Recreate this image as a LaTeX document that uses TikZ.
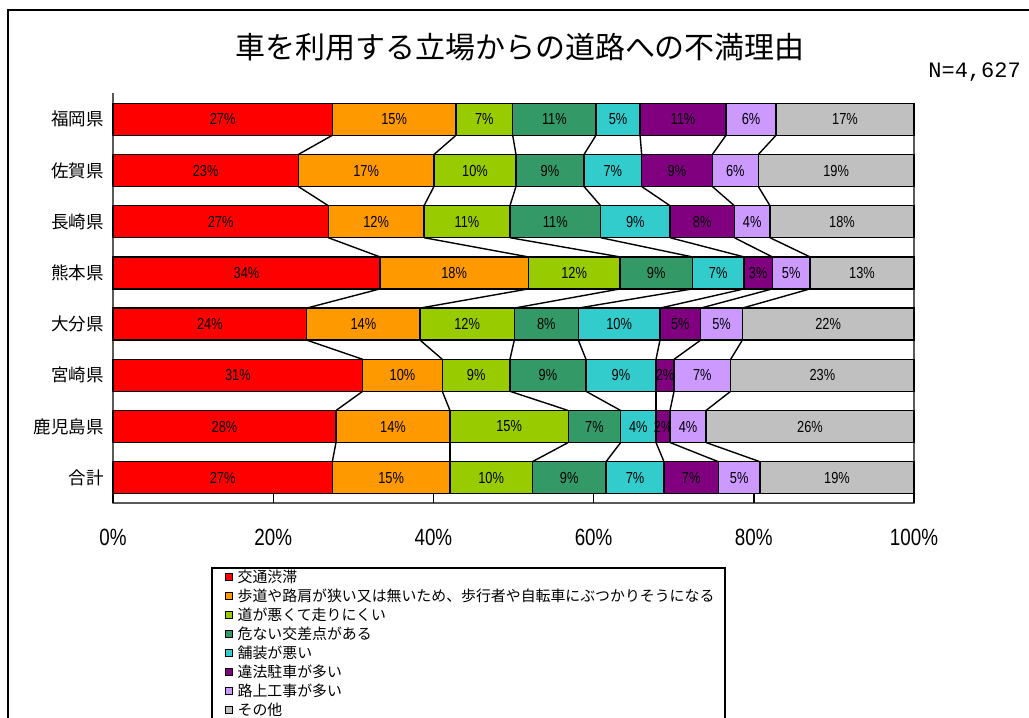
\documentclass[tikz,border=0pt]{standalone}
\usepackage{fontspec}
\setmainfont{Noto Sans CJK JP}
\newfontfamily\numfont[FakeStretch=0.8]{Liberation Sans}
\newfontfamily\monofont{Liberation Mono}
\usetikzlibrary{positioning}

\definecolor{c1}{HTML}{FF0000}
\definecolor{c2}{HTML}{FF9900}
\definecolor{c3}{HTML}{99CC00}
\definecolor{c4}{HTML}{339966}
\definecolor{c5}{HTML}{33CCCC}
\definecolor{c6}{HTML}{800080}
\definecolor{c7}{HTML}{CC99FF}
\definecolor{c8}{HTML}{C0C0C0}

\begin{document}
\begin{tikzpicture}[x=1pt,y=-1pt,
    segbox/.style={draw=black,line width=1.4pt},
    serline/.style={draw=black,line width=1.4pt},
    axisline/.style={draw=black,line width=1.4pt},
    pctlabel/.style={inner sep=0pt,font=\numfont\fontsize{16}{18}\selectfont},
    catlabel/.style={anchor=east,inner sep=0pt,font=\fontsize{17.5}{19}\selectfont},
    ticklabel/.style={inner sep=0pt,font=\numfont\fontsize{23.5}{25}\selectfont},
    keybox/.style={draw=black,line width=0.9pt,minimum size=7pt,inner sep=0pt},
    keytext/.style={anchor=west,inner sep=0pt,font=\fontsize{14.9}{16}\selectfont}]
  \useasboundingbox (0,0) rectangle (1029,718);

  % outer frame and legend frame
  \draw[line width=2pt] (8,718) -- (8,10) -- (1029,10);
  \draw[line width=1.4pt] (212,718) -- (212,568) -- (725,568) -- (725,718);

  \node[font=\fontsize{30}{33}\selectfont] (title) at (520,47) {車を利用する立場からの道路への不満理由};
  \node[anchor=east,inner sep=0pt,font=\monofont\fontsize{22}{24}\selectfont] (nsize) at (1021,72) {N=4,627};

  \foreach \r/\pref/\segs in {
    1/福岡県/{27.38/27,42.82/15,49.9/7,60.3/11,65.8/5,76.53/11,82.77/6,100/17},
    2/佐賀県/{23.13/23,40.07/17,50.31/10,58.8/9,66.0/7,74.82/9,80.56/6,100/19},
    3/長崎県/{26.88/27,38.83/12,49.56/11,60.88/11,69.54/9,77.57/8,82.02/4,100/18},
    4/熊本県/{33.33/34,51.85/18,63.3/12,72.32/9,78.78/7,82.31/3,87.02/5,100/13},
    5/大分県/{24.18/24,38.33/14,50.1/12,58.09/8,68.29/10,73.37/5,78.57/5,100/22},
    6/宮崎県/{31.17/31,41.11/10,49.56/9,59.05/9,67.79/9,70.04/2,77.11/7,100/23},
    7/鹿児島県/{27.84/28,42.07/14,56.84/15,63.38/7,67.79/4,69.54/2,74.03/4,100/26},
    8/合計/{27.38/27,42.07/15,52.35/10,61.55/9,68.79/7,75.57/7,80.77/5,100/19}}{
    \pgfmathsetmacro\ytop{103.3+51.2*(\r-1)}
    \pgfmathsetmacro\ybot{\ytop+32}
    \pgfmathsetmacro\ymid{\ytop+16}
    \node[catlabel] (cat\r) at (104,\ymid) {\pref};
    \foreach \e/\l [count=\k, remember=\e as \s (initially 0)] in \segs {
      \pgfmathsetmacro\xa{113+8.01*\s}
      \pgfmathsetmacro\xb{113+8.01*\e}
      \draw[segbox,fill=c\k] (\xa,\ytop) rectangle (\xb,\ybot);
      \coordinate (t\r-\k) at (\xb,\ytop);
      \coordinate (u\r-\k) at (\xb,\ybot);
      \node[pctlabel] (p\r-\k) at ({(\xa+\xb)/2},\ymid) {\l\%};
    }
  }

  \foreach \r [evaluate=\r as \n using int(\r+1)] in {1,...,7}
    \foreach \k in {1,...,7}
      \draw[serline] (u\r-\k) -- (t\n-\k);

  % axes
  \coordinate (ytop) at (113,93);
  \coordinate (orig) at (113,503);
  \coordinate (xend) at (914,503);
  \draw[axisline] (ytop) -- (orig) -- (xend) -- (t1-8);
  \foreach \i/\t in {0/0,1/20,2/40,3/60,4/80,5/100} {
    \coordinate (tick\i) at ({113+160.2*\i},503);
    \draw[axisline] (tick\i) -- ++(0,-10);
    \node[ticklabel] (tl\i) at ({113+160.2*\i},537) {\t\%};
  }

  % legend
  \foreach \k/\txt in {1/交通渋滞,
      2/歩道や路肩が狭い又は無いため、歩行者や自転車にぶつかりそうになる,
      3/道が悪くて走りにくい, 4/危ない交差点がある, 5/舗装が悪い,
      6/違法駐車が多い, 7/路上工事が多い, 8/その他} {
    \node[keybox,fill=c\k] (key\k) at (229,{577+19*(\k-1)}) {};
    \node[keytext,right=4.5pt of key\k] (ktext\k) {\txt};
  }
\end{tikzpicture}
\end{document}
